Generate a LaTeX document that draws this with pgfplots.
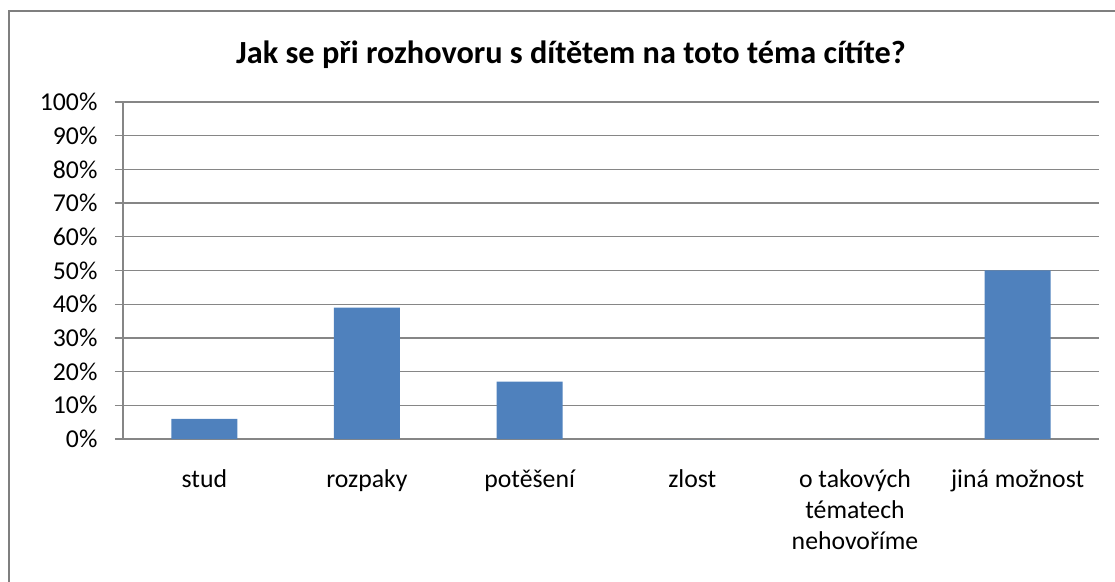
\documentclass[border=0pt]{standalone}
\usepackage{pgfplots}
\pgfplotsset{compat=1.18}
\usepackage{fontspec}
\setmainfont{Carlito}
\definecolor{barblue}{HTML}{4F81BD}
\definecolor{axgray}{HTML}{868686}
\begin{document}
\begin{tikzpicture}
\useasboundingbox (-92.25pt,-107.25pt) rectangle (744pt,329.25pt);
\begin{scope}
\clip (-92.25pt,-107.25pt) rectangle (744pt,329.25pt);
\draw[color=axgray!95!black, line width=1.9pt] (-85.5pt,-130pt) -- (-85.5pt,321pt) -- (770pt,321pt);
\end{scope}
\node[font=\fontsize{24.2}{28}\selectfont\bfseries] at (336pt,288pt) {Jak se při rozhovoru s dítětem na toto téma cítíte?};
\begin{axis}[
  at={(0pt,0pt)}, anchor=south west,
  scale only axis, width=732pt, height=252.75pt,
  xmin=-0.5, xmax=5.5, ymin=0, ymax=100,
  axis x line*=bottom, axis y line*=left,
  axis line style={color=axgray, line width=1pt},
  ytick={0,10,...,100},
  yticklabel={\pgfmathprintnumber{\tick}\%},
  xtick={0,1,2,3,4,5},
  xticklabels={stud,rozpaky,potěšení,zlost,{o takových\\tématech\\nehovoříme},jiná možnost},
  extra x ticks={-0.5,0.5,1.5,2.5,3.5,4.5,5.5},
  extra x tick labels={},
  extra x tick style={major tick length=6pt, tick style={color=axgray, line width=1pt}, tick align=outside},
  x tick style={draw=none},
  y tick style={color=axgray, line width=1pt},
  tick align=outside, major tick length=6pt,
  ymajorgrids, grid style={color=axgray, line width=1pt},
  /pgf/number format/assume math mode=true,
  tick label style={font=\fontsize{19.3}{23.25}\selectfont},
  xticklabel style={align=center, anchor=north, inner sep=0pt, yshift=-17pt},
  yticklabel style={anchor=east, inner sep=0pt, xshift=-13pt},
  ybar, bar width=49.5pt,
  clip=false,
]
\addplot[fill=barblue, draw=none, bar shift=0pt] coordinates {(0,6) (1,39) (2,17) (3,0) (4,0) (5,50)};
\end{axis}
\end{tikzpicture}
\end{document}
